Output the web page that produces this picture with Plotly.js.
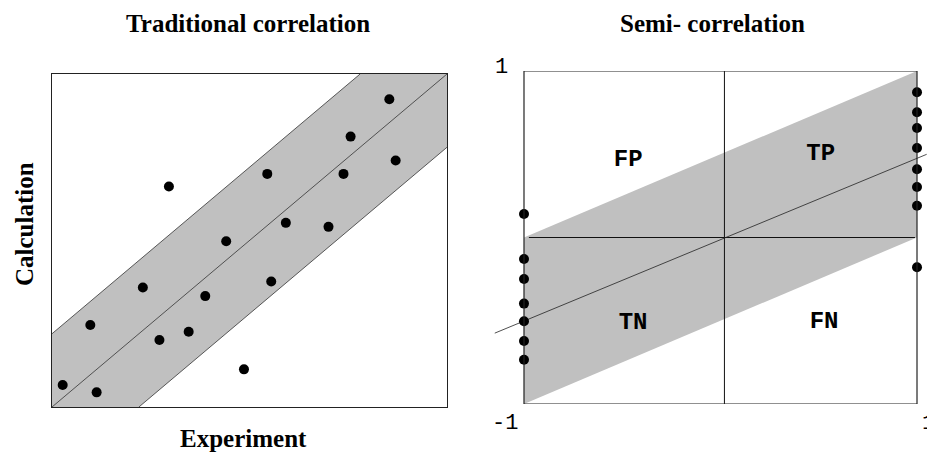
<!DOCTYPE html>
<html>
<head>
<meta charset="utf-8">
<script src="https://cdn.plot.ly/plotly-3.0.1.min.js"></script>
<style>html,body{margin:0;padding:0;background:#fff;}#chart{width:927px;height:452px;}</style>
</head>
<body>
<div id="chart"></div>
<script>
// ---- Traditional correlation (normalised experiment vs calculation) ----
const tradX = [0.027,0.113,0.097,0.230,0.272,0.346,0.388,0.296,0.441,0.486,0.545,0.555,0.592,0.700,0.738,0.756,0.854,0.870];
const tradY = [0.066,0.044,0.246,0.359,0.201,0.226,0.333,0.662,0.498,0.113,0.700,0.377,0.553,0.541,0.700,0.812,0.924,0.740];
const tradBand = 0.22;          // half-width of the tolerance band

// ---- Semi-correlation ----
const semiNegX = [-1,-1,-1,-1,-1,-1,-1];
const semiNegY = [0.141,-0.129,-0.249,-0.397,-0.503,-0.622,-0.734];
const semiPosX = [1,1,1,1,1,1,1,1];
const semiPosY = [0.872,0.752,0.658,0.538,0.410,0.303,0.191,-0.179];
const semiLineX = [-1.15, 1.05];
const semiLineY = [-0.575, 0.50];
const semiBandX = [-1,-1,1,1,-1];
const semiBandY = [-1,0,1,0,-1];
const quadLabels = ['FP','TP','TN','FN'];
const quadX = [-0.47, 0.51, -0.445, 0.527];
const quadY = [0.465, 0.50, -0.514, -0.508];
const semiTicks = ['1','-1','1'];

const GRAY = 'rgb(192,192,192)';
const INK = '#111';

const traces = [
  {x:[0,0,1-tradBand,1,1,tradBand,0], y:[0,tradBand,1,1,1-tradBand,0,0],
   xaxis:'x', yaxis:'y', mode:'lines', fill:'toself', fillcolor:GRAY,
   line:{width:0}, hoverinfo:'skip', showlegend:false},
  {x:[0,1-tradBand], y:[tradBand,1], xaxis:'x', yaxis:'y', mode:'lines', line:{color:'#333',width:0.8}, showlegend:false},
  {x:[tradBand,1], y:[0,1-tradBand], xaxis:'x', yaxis:'y', mode:'lines', line:{color:'#333',width:0.8}, showlegend:false},
  {x:[0,1], y:[0,1], xaxis:'x', yaxis:'y', mode:'lines', line:{color:'#333',width:0.8}, showlegend:false},
  {x:tradX, y:tradY, xaxis:'x', yaxis:'y', mode:'markers', marker:{color:'#000',size:10}, cliponaxis:false, showlegend:false},

  {x:semiBandX, y:semiBandY, xaxis:'x2', yaxis:'y2', mode:'lines', fill:'toself', fillcolor:GRAY,
   line:{width:0}, hoverinfo:'skip', showlegend:false},
  {x:[-0.975,0.99], y:[0,0], xaxis:'x2', yaxis:'y2', mode:'lines', line:{color:INK,width:1}, showlegend:false},
  {x:[0.02,0.02], y:[-1,1], xaxis:'x2', yaxis:'y2', mode:'lines', line:{color:INK,width:1}, showlegend:false},
  {x:semiLineX, y:semiLineY, xaxis:'x2', yaxis:'y2', mode:'lines', line:{color:'#222',width:0.8}, showlegend:false},
  {x:quadX, y:quadY, text:quadLabels, xaxis:'x2', yaxis:'y2', mode:'text',
   textfont:{family:'Liberation Mono, Courier New, monospace', size:24, color:'#000', weight:'bold'}, showlegend:false},
  {x:semiNegX.concat(semiPosX), y:semiNegY.concat(semiPosY), xaxis:'x2', yaxis:'y2', mode:'markers',
   marker:{color:'#000',size:10}, cliponaxis:false, showlegend:false}
];

const W = 927, H = 452;
const px = v => v / W, py = v => 1 - v / H;
const serif = {family:'Liberation Serif, Times New Roman, serif', size:25, color:'#000', weight:'bold'};
const mono = {family:'Liberation Mono, Courier New, monospace', size:22, color:'#000'};

const layout = {
  width: W, height: H,
  margin:{l:0,r:0,t:0,b:0},
  paper_bgcolor:'#fff', plot_bgcolor:'rgba(0,0,0,0)',
  showlegend:false,
  xaxis:{domain:[px(52),px(447)], range:[0,1], showgrid:false, zeroline:false, showticklabels:false, ticks:'',
         showline:true, mirror:true, linecolor:'#222', linewidth:1.2, fixedrange:true},
  yaxis:{domain:[py(407),py(74)], range:[0,1], showgrid:false, zeroline:false, showticklabels:false, ticks:'',
         showline:true, mirror:true, linecolor:'#222', linewidth:1.2, fixedrange:true},
  xaxis2:{domain:[px(524-0.15*196.5),px(917+0.05*196.5)], range:[-1.15,1.05], showgrid:false, zeroline:false,
          showticklabels:false, ticks:'', showline:false, fixedrange:true},
  yaxis2:{domain:[py(404),py(71)], range:[-1,1], showgrid:false, zeroline:false, showticklabels:false, ticks:'',
          showline:false, fixedrange:true},
  shapes:[
    {type:'rect', xref:'x2', yref:'y2', x0:-1, x1:1, y0:-1, y1:1, line:{color:'#222',width:1.2}, fillcolor:'rgba(0,0,0,0)', layer:'above'}
  ],
  annotations:[
    {text:'Traditional correlation', xref:'paper', yref:'paper', x:px(248), y:py(24), xanchor:'center', yanchor:'middle', showarrow:false, font:serif},
    {text:'Semi- correlation', xref:'paper', yref:'paper', x:px(712), y:py(24), xanchor:'center', yanchor:'middle', showarrow:false, font:serif},
    {text:'Experiment', xref:'paper', yref:'paper', x:px(243), y:py(438.5), xanchor:'center', yanchor:'middle', showarrow:false, font:serif},
    {text:'Calculation', xref:'paper', yref:'paper', x:px(24), y:py(224), xanchor:'center', yanchor:'middle', textangle:-90, showarrow:false, font:serif},
    {text:semiTicks[0], xref:'x2', yref:'y2', x:-1, y:1, xshift:-22, yshift:3, xanchor:'center', yanchor:'middle', showarrow:false, font:mono},
    {text:semiTicks[1], xref:'x2', yref:'y2', x:-1, y:-1, xshift:-19, yshift:-19, xanchor:'center', yanchor:'middle', showarrow:false, font:mono},
    {text:semiTicks[2], xref:'x2', yref:'y2', x:1, y:-1, xshift:11, yshift:-19, xanchor:'center', yanchor:'middle', showarrow:false, font:mono}
  ]
};

Plotly.newPlot('chart', traces, layout, {displayModeBar:false, staticPlot:true});
</script>
</body>
</html>
